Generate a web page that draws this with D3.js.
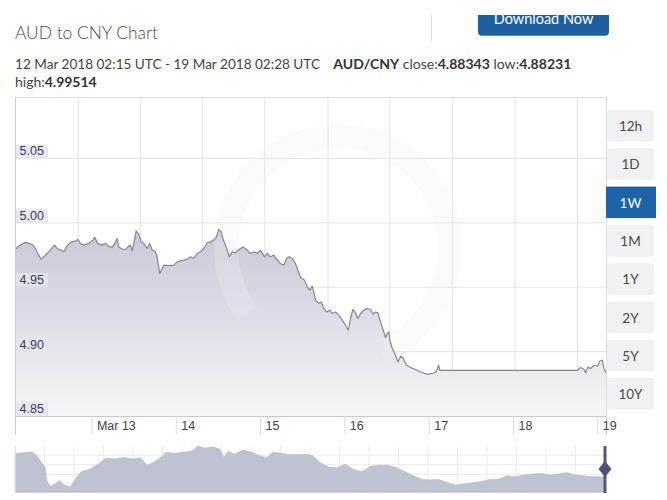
<!DOCTYPE html>
<html><head><meta charset="utf-8">
<script src="https://cdn.jsdelivr.net/npm/d3@7"></script>
<style>
body{margin:0;background:#fff;}
svg{display:block;font-family:Lato,"Open Sans","Liberation Sans",sans-serif;}
</style>
</head><body>
<svg id="c" width="667" height="500"></svg>
<script>
// ---------------- data ----------------
const startTime = Date.UTC(2018, 2, 12, 2, 15);
const endTime = Date.UTC(2018, 2, 19, 2, 28);

const hoursFromStart = [0, 1.05, 2.96, 3.90, 4.87, 5.81, 6.75, 7.43, 8.17, 9.14, 10.08, 11.22, 11.99, 12.73, 13.87, 14.83, 15.77, 17.20, 17.97, 18.62,
  19.56, 20.99, 22.24, 22.69, 23.55, 24.80, 25.74, 26.68, 27.65, 28.59, 29.07, 29.53, 30.50, 31.44, 32.38, 32.86, 33.34, 34.00, 34.48, 35.22,
  35.91, 36.65, 37.61, 38.36, 39.04, 39.98, 40.46, 40.75, 41.20, 42.34, 43.76, 45.19, 46.16, 47.10, 48.04, 49.00, 49.94, 50.88, 51.85, 52.79,
  53.73, 54.70, 55.64, 56.58, 57.35, 58.00, 58.69, 59.25, 59.91, 60.39, 61.05, 61.82, 62.76, 63.70, 64.95, 65.89, 67.03, 67.97, 68.94, 69.88,
  71.01, 71.78, 72.72, 73.66, 74.63, 75.57, 76.51, 77.28, 77.93, 78.90, 79.84, 80.50, 81.27, 82.41, 83.17, 83.91, 84.60, 85.05, 85.54, 86.48,
  87.16, 87.90, 88.67, 89.61, 90.29, 91.23, 92.17, 93.14, 94.08, 94.85, 95.50, 96.16, 96.93, 97.58, 98.35, 99.29, 100.26, 101.20, 101.97, 102.62,
  103.28, 104.04, 104.81, 105.47, 105.95, 106.41, 106.69, 107.38, 108.32, 108.97, 109.74, 110.51, 111.45, 112.59, 114.01, 115.43, 117.34, 119.22, 119.99, 120.56,
  120.93, 122.07, 160.05, 160.99, 161.93, 162.42, 163.07, 163.84, 164.78, 165.75, 166.49, 167.17, 167.63, 168.22];

const rates = [4.9793, 4.9819, 4.9848, 4.9840, 4.9832, 4.9801, 4.9749, 4.9718, 4.9736, 4.9762, 4.9788, 4.9827, 4.9801, 4.9793, 4.9775, 4.9819, 4.9848, 4.9860, 4.9871, 4.9840,
  4.9827, 4.9840, 4.9866, 4.9887, 4.9840, 4.9827, 4.9840, 4.9819, 4.9809, 4.9852, 4.9879, 4.9813, 4.9796, 4.9793, 4.9819, 4.9827, 4.9782, 4.9866, 4.9938, 4.9912,
  4.9852, 4.9840, 4.9801, 4.9840, 4.9788, 4.9775, 4.9736, 4.9684, 4.9607, 4.9671, 4.9667, 4.9671, 4.9697, 4.9705, 4.9710, 4.9716, 4.9736, 4.9723, 4.9762, 4.9775,
  4.9801, 4.9845, 4.9852, 4.9866, 4.9891, 4.9949, 4.9930, 4.9871, 4.9827, 4.9788, 4.9736, 4.9775, 4.9767, 4.9793, 4.9813, 4.9793, 4.9762, 4.9775, 4.9762, 4.9788,
  4.9736, 4.9762, 4.9736, 4.9749, 4.9710, 4.9684, 4.9671, 4.9723, 4.9736, 4.9723, 4.9684, 4.9632, 4.9578, 4.9555, 4.9503, 4.9477, 4.9508, 4.9464, 4.9399, 4.9374,
  4.9386, 4.9335, 4.9308, 4.9322, 4.9296, 4.9308, 4.9283, 4.9244, 4.9205, 4.9166, 4.9257, 4.9327, 4.9301, 4.9257, 4.9296, 4.9322, 4.9335, 4.9327, 4.9290, 4.9308,
  4.9301, 4.9231, 4.9166, 4.9109, 4.9140, 4.9153, 4.9088, 4.9024, 4.8972, 4.8920, 4.8964, 4.8946, 4.8894, 4.8876, 4.8861, 4.8842, 4.8823, 4.8834, 4.8850, 4.8894,
  4.8855, 4.8855, 4.8855, 4.8876, 4.8861, 4.8834, 4.8881, 4.8868, 4.8894, 4.8886, 4.8927, 4.8933, 4.8868, 4.8834];

const dayTicks = ["2018-03-13", "2018-03-14", "2018-03-15", "2018-03-16", "2018-03-17", "2018-03-18", "2018-03-19"];
const dayTickLabels = ["Mar 13", "14", "15", "16", "17", "18", "19"];
const rateTicks = [4.85, 4.90, 4.95, 5.00, 5.05];
const gridHours = [17.97, 35.7, 53.4, 71.1, 89.1, 106.7, 124.5, 142.3, 160.1];

const rangeButtons = ["12h", "1D", "1W", "1M", "1Y", "2Y", "5Y", "10Y"];
const activeButton = "1W";

const navYears = [2008.20, 2008.31, 2008.49, 2008.56, 2008.63, 2008.71, 2008.74, 2008.81, 2008.89, 2008.96, 2009.03, 2009.14, 2009.21, 2009.32, 2009.46, 2009.61,
  2009.75, 2009.90, 2010.04, 2010.19, 2010.33, 2010.44, 2010.55, 2010.69, 2010.76, 2010.91, 2011.05, 2011.20, 2011.30, 2011.41, 2011.56, 2011.67,
  2011.74, 2011.81, 2011.92, 2012.06, 2012.21, 2012.35, 2012.46, 2012.57, 2012.71, 2012.86, 2013.00, 2013.14, 2013.25, 2013.36, 2013.51, 2013.65,
  2013.80, 2013.94, 2014.08, 2014.23, 2014.37, 2014.52, 2014.66, 2014.81, 2014.95, 2015.10, 2015.24, 2015.38, 2015.53, 2015.67, 2015.82, 2015.96,
  2016.11, 2016.25, 2016.39, 2016.54, 2016.68, 2016.83, 2016.97, 2017.12, 2017.26, 2017.41, 2017.55, 2017.69, 2017.84, 2017.98, 2018.13, 2018.20];
const navRates = [6.58, 6.61, 6.68, 6.48, 6.06, 5.61, 4.60, 4.24, 4.47, 4.66, 4.34, 4.21, 4.70, 5.28, 5.44, 5.83,
  6.26, 6.19, 6.29, 6.19, 6.26, 5.74, 5.96, 6.35, 6.65, 6.58, 6.65, 6.74, 7.10, 6.94, 7.04, 6.87,
  6.29, 6.74, 6.52, 6.81, 6.65, 6.42, 6.26, 6.65, 6.58, 6.48, 6.48, 6.52, 6.42, 5.96, 5.61, 5.57,
  5.80, 5.44, 5.28, 5.67, 5.74, 5.74, 5.57, 5.28, 4.99, 4.73, 4.70, 4.73, 4.50, 4.34, 4.44, 4.50,
  4.60, 4.73, 4.73, 4.99, 4.92, 5.05, 5.12, 5.15, 5.05, 5.12, 5.22, 5.05, 4.99, 4.92, 4.92, 4.90];

// ---------------- drawing ----------------
const svg = d3.select("#c");
const plot = {left: 15, right: 606, top: 97, bottom: 416};

const x = d3.scaleUtc().domain([new Date(startTime), new Date(endTime)]).range([plot.left, plot.right]);
const y = d3.scaleLinear().domain([4.85, 5.0977]).range([plot.bottom, plot.top]);
const series = hoursFromStart.map((h, i) => ({t: new Date(startTime + h * 3600e3), v: rates[i]}));

// header
svg.append("text").attr("x", 15).attr("y", 39).attr("font-size", 17.5).attr("font-weight", 300)
  .attr("fill", "#4a4a4a").attr("textLength", 143).attr("lengthAdjust", "spacingAndGlyphs").text("AUD to CNY Chart");

svg.append("line").attr("x1", 431.5).attr("x2", 431.5).attr("y1", 15).attr("y2", 41)
  .attr("stroke", "#dcdcdc").attr("stroke-width", 1);

const defs = svg.append("defs");
const clip = defs.append("clipPath").attr("id", "btnclip");
clip.append("rect").attr("x", 470).attr("y", 15).attr("width", 150).attr("height", 30);
const btn = svg.append("g").attr("clip-path", "url(#btnclip)");
btn.append("rect").attr("x", 478).attr("y", 2).attr("width", 131).attr("height", 33.7).attr("rx", 4).attr("fill", "#1d5f9f");
btn.append("text").attr("x", 543.5).attr("y", 24.3).attr("text-anchor", "middle").attr("font-size", 14.5)
  .attr("fill", "#fff").text("Download Now");

svg.append("text").attr("x", 15).attr("y", 69).attr("font-size", 12.5).attr("fill", "#444")
  .attr("textLength", 305).attr("lengthAdjust", "spacingAndGlyphs")
  .text("12 Mar 2018 02:15 UTC - 19 Mar 2018 02:28 UTC");

const info = svg.append("text").attr("x", 333.3).attr("y", 69).attr("font-size", 12.5).attr("fill", "#444")
  .attr("textLength", 238).attr("lengthAdjust", "spacingAndGlyphs");
info.append("tspan").attr("font-weight", "bold").attr("fill", "#333").text("AUD/CNY");
info.append("tspan").text(" close:");
info.append("tspan").attr("font-weight", "bold").attr("fill", "#333").text(d3.format(".5f")(4.88343));
info.append("tspan").text(" low:");
info.append("tspan").attr("font-weight", "bold").attr("fill", "#333").text(d3.format(".5f")(4.88231));

const info2 = svg.append("text").attr("x", 15).attr("y", 87).attr("font-size", 12.5).attr("fill", "#444")
  .attr("textLength", 81.7).attr("lengthAdjust", "spacingAndGlyphs");
info2.append("tspan").text("high:");
info2.append("tspan").attr("font-weight", "bold").attr("fill", "#333").text(d3.format(".5f")(4.99514));

// grid
const g = svg.append("g");
g.selectAll(".vg").data(gridHours).join("line")
  .attr("x1", d => x(new Date(startTime + d * 3600e3))).attr("x2", d => x(new Date(startTime + d * 3600e3)))
  .attr("y1", plot.top).attr("y2", plot.bottom).attr("stroke", "#e3e3e6").attr("stroke-width", 1);
g.selectAll(".hg").data(rateTicks).join("line")
  .attr("x1", plot.left).attr("x2", plot.right).attr("y1", d => y(d)).attr("y2", d => y(d))
  .attr("stroke", "#e3e3e6").attr("stroke-width", 1);

// area
const grad = defs.append("linearGradient").attr("id", "ag").attr("gradientUnits", "userSpaceOnUse")
  .attr("x1", 0).attr("x2", 0).attr("y1", y(4.995)).attr("y2", plot.bottom);
grad.append("stop").attr("offset", 0).attr("stop-color", "#c8c9d7");
grad.append("stop").attr("offset", 0.45).attr("stop-color", "#dbdce5");
grad.append("stop").attr("offset", 1).attr("stop-color", "#f6f6f9");

svg.append("path").datum(series)
  .attr("d", d3.area().x(d => x(d.t)).y0(plot.bottom).y1(d => y(d.v)))
  .attr("fill", "url(#ag)");

// watermark (very faint)
svg.append("path")
  .attr("transform", "translate(338,248)")
  .attr("d", d3.arc().innerRadius(100).outerRadius(124).startAngle(-2.2).endAngle(2.75)())
  .attr("fill", "#eeeef2").attr("opacity", 0.3);

// line
svg.append("path").datum(series)
  .attr("d", d3.line().x(d => x(d.t)).y(d => y(d.v)))
  .attr("fill", "none").attr("stroke", "#86868f").attr("stroke-width", 1.2).attr("stroke-linejoin", "round");

// borders
svg.append("line").attr("x1", plot.left).attr("x2", plot.right).attr("y1", plot.top + 0.5).attr("y2", plot.top + 0.5).attr("stroke", "#e0e0e3");
svg.append("line").attr("x1", plot.left + 0.5).attr("x2", plot.left + 0.5).attr("y1", plot.top).attr("y2", plot.bottom).attr("stroke", "#c9c9cf");
svg.append("line").attr("x1", plot.right + 0.5).attr("x2", plot.right + 0.5).attr("y1", plot.top).attr("y2", plot.bottom + 6).attr("stroke", "#dedee2");

// y labels
const yl = svg.append("g");
yl.selectAll("rect").data(rateTicks).join("rect")
  .attr("x", 16).attr("y", d => y(d) - 14).attr("width", 32).attr("height", 14)
  .attr("fill", "#e4e4ef").attr("opacity", 0.85);
yl.selectAll("text").data(rateTicks).join("text")
  .attr("x", 19.5).attr("y", d => y(d) - 3).attr("font-size", 12.5).attr("fill", "#3d3d5c")
  .attr("font-family", "'Liberation Sans', Arial, sans-serif")
  .text(d => d3.format(".2f")(d));

// x axis
const xAxis = d3.axisBottom(x)
  .tickValues(dayTicks.map(s => new Date(s + "T00:00:00Z")))
  .tickFormat((d, i) => dayTickLabels[i])
  .tickSize(19).tickPadding(0);
const xa = svg.append("g").attr("transform", `translate(0,${plot.bottom})`).call(xAxis);
xa.select(".domain").attr("stroke", "#c9c9cf");
xa.selectAll(".tick line").attr("stroke", "#dcdcdf");
xa.selectAll(".tick text").attr("text-anchor", "start").attr("x", 5).attr("y", 5).attr("dy", "0.71em")
  .attr("font-size", 12.5).attr("fill", "#444").attr("font-family", "'Liberation Sans', Arial, sans-serif");

// range buttons
const bg = svg.append("g");
rangeButtons.forEach((b, i) => {
  const top = 110 + i * 38.3;
  const active = b === activeButton;
  bg.append("rect").attr("x", active ? 606 : 607).attr("y", top).attr("width", active ? 50 : 47).attr("height", 31.5)
    .attr("rx", active ? 0 : 3).attr("fill", active ? "#1d64a6" : "#f1f1f3");
  bg.append("text").attr("x", 630.5).attr("y", top + 21).attr("text-anchor", "middle").attr("font-size", 13.5)
    .attr("fill", active ? "#fff" : "#4a4a4a").text(b);
});

// navigator
const nav = {left: 15, right: 607, top: 446, bottom: 492};
const nx = d3.scaleLinear().domain([2008.2, 2018.2]).range([nav.left, nav.right - 2]);
const ny = d3.scaleLinear().domain([3.85, 7.10]).range([nav.bottom, nav.top]);
const ng = svg.append("g");
ng.selectAll(".nv").data(d3.range(2008.7, 2018.2, 0.5)).join("line")
  .attr("x1", d => nx(d)).attr("x2", d => nx(d)).attr("y1", nav.top).attr("y2", nav.bottom)
  .attr("stroke", "#ececf0");
ng.selectAll(".nh").data([6.45, 5.78, 5.1, 4.42]).join("line")
  .attr("x1", nav.left).attr("x2", nav.right).attr("y1", d => ny(d)).attr("y2", d => ny(d))
  .attr("stroke", "#ececf0");
const navSeries = navYears.map((yr, i) => ({t: yr, v: navRates[i]}));
ng.append("path").datum(navSeries)
  .attr("d", d3.area().x(d => nx(d.t)).y0(nav.bottom).y1(d => ny(d.v)))
  .attr("fill", "#bfc2d0").attr("stroke", "#b3b6c6").attr("stroke-width", 0.6);
ng.append("line").attr("x1", nav.left).attr("x2", nav.right).attr("y1", nav.bottom + 0.5).attr("y2", nav.bottom + 0.5).attr("stroke", "#d3d4dc");
ng.append("line").attr("x1", nav.left + 0.5).attr("x2", nav.left + 0.5).attr("y1", nav.top).attr("y2", nav.bottom).attr("stroke", "#d8d8de");
// handle
const hx = nx(2018.2);
ng.append("line").attr("x1", hx).attr("x2", hx).attr("y1", nav.top).attr("y2", nav.bottom + 1)
  .attr("stroke", "#55587a").attr("stroke-width", 3);
ng.append("path").attr("d", `M${hx},${461} L${hx + 6.5},${469} L${hx},${477} L${hx - 6.5},${469} Z`).attr("fill", "#4f5275");
</script>
</body></html>
